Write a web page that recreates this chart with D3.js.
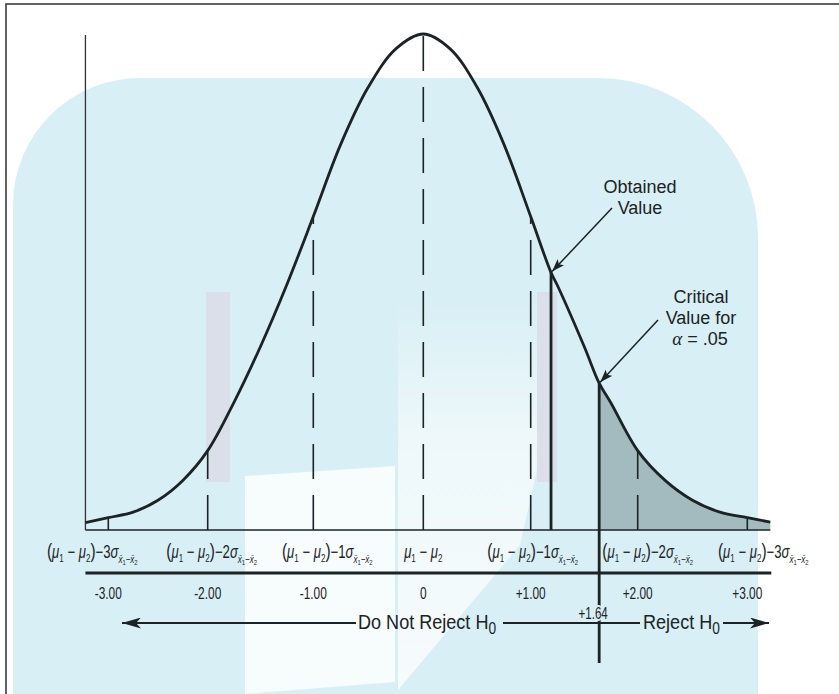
<!DOCTYPE html>
<html><head><meta charset="utf-8">
<script src="https://cdn.jsdelivr.net/npm/d3@7"></script>
<style>html,body{margin:0;padding:0;background:#fff;} svg{display:block;}</style>
</head><body>
<svg id="chart" width="839" height="694"></svg>
<script>
// ---------------- data ----------------
// curve: position in standard-error units and relative height (peak = 1)
const curveZ = [-3.23, -3.0, -2.75, -2.5, -2.25, -2.0, -1.75, -1.5, -1.25, -1.0, -0.75, -0.5, -0.25, 0,
                0.25, 0.5, 0.75, 1.0, 1.19, 1.25, 1.5, 1.64, 1.75, 2.0, 2.25, 2.5, 2.75, 3.0, 3.21];
const curveH = [0.015, 0.025, 0.036, 0.060, 0.100, 0.160, 0.258, 0.370, 0.495, 0.632, 0.778, 0.893, 0.970, 1.0,
                0.970, 0.893, 0.778, 0.632, 0.519, 0.493, 0.370, 0.296, 0.256, 0.160, 0.100, 0.060, 0.036, 0.025, 0.016];
const tickValues = [-3, -2, -1, 0, 1, 2, 3];
const tickLabels = ["-3.00", "-2.00", "-1.00", "0", "+1.00", "+2.00", "+3.00"];
const sigmaLabels = ["\u22123", "\u22122", "\u22121", null, "\u22121", "\u22122", "\u22123"];
const dashedAt = [-2, -1, 0, 1, 2];
const solidAt = [-3, 3];
const obtainedZ = 1.19;
const criticalZ = 1.64;
const criticalLabel = "+1.64";
const regionLeft = "Do Not Reject H";
const regionRight = "Reject H";
const obtainedText = ["Obtained", "Value"];
const criticalText = ["Critical", "Value for"];

// ---------------- layout ----------------
const W = 839, H = 694;
const FONT = "'Liberation Sans', Arial, Helvetica, sans-serif";
const INK = "#1b2325";
const PANEL = "#d8eff5";
const svg = d3.select("#chart");
const defs = svg.append("defs");

const x = d3.scaleLinear().domain(tickValues).range([108.3, 207.7, 313.3, 423.3, 530.7, 637.7, 747.3]);
const y = d3.scaleLinear().domain([0, 1]).range([530, 34]);
const pts = curveZ.map((z, i) => [z, curveH[i]]);
const hAt = z => curveH[curveZ.indexOf(z)];
const zMin = curveZ[0], zMax = curveZ[curveZ.length - 1];

// ---------------- background (watermark panel) ----------------
svg.append("rect").attr("width", W).attr("height", H).attr("fill", "#fff");
svg.append("path")
  .attr("d", "M13,700 L13,205 A127,127 0 0 1 140,78 L598,78 A160,160 0 0 1 758,238 L758,700 Z")
  .attr("fill", PANEL);
const pageGrad = defs.append("linearGradient").attr("id", "pageGrad").attr("x1", 0).attr("y1", 0).attr("x2", 0).attr("y2", 1);
pageGrad.append("stop").attr("offset", "0%").attr("stop-color", PANEL);
pageGrad.append("stop").attr("offset", "35%").attr("stop-color", "#eef8fa");
pageGrad.append("stop").attr("offset", "100%").attr("stop-color", "#f6fbfc");
svg.append("rect").attr("x", 206).attr("y", 292).attr("width", 24).attr("height", 190).attr("fill", "#dcd4e2").attr("opacity", 0.6);
svg.append("rect").attr("x", 537).attr("y", 292).attr("width", 20).attr("height", 190).attr("fill", "#dcd4e2").attr("opacity", 0.6);
svg.append("path").attr("d", "M245,476 L395,466 L395,682 L245,694 Z").attr("fill", "#f7fcfd");
svg.append("path").attr("d", "M398,300 L537,300 L537,470 L520,545 L398,690 Z").attr("fill", "url(#pageGrad)");

// ---------------- frame ----------------
svg.append("rect").attr("x", 6).attr("y", 4).attr("width", 900).attr("height", 800)
  .attr("fill", "none").attr("stroke", "#3c3c3c").attr("stroke-width", 1.6);

// ---------------- markers ----------------
function marker(id, len, half, notch) {
  defs.append("marker").attr("id", id)
    .attr("viewBox", `${-len} ${-half} ${len} ${2 * half}`)
    .attr("markerUnits", "userSpaceOnUse")
    .attr("markerWidth", len).attr("markerHeight", 2 * half)
    .attr("refX", 0).attr("refY", 0).attr("orient", "auto")
    .append("path")
    .attr("d", `M0,0 L${-len},${-half} L${-len + notch},0 L${-len},${half} Z`)
    .attr("fill", INK);
}
marker("bigArrow", 19, 5.5, 5);
marker("smallArrow", 13, 4.5, 3);

// ---------------- shaded rejection region ----------------
defs.append("clipPath").attr("id", "tailClip")
  .append("rect").attr("x", x(criticalZ)).attr("y", 0).attr("width", W).attr("height", y(0));
const curveGen = d3.curveCatmullRom.alpha(0.5);
svg.append("path").datum(pts)
  .attr("clip-path", "url(#tailClip)")
  .attr("fill", "#a3bbbe")
  .attr("d", d3.area().x(d => x(d[0])).y0(y(0)).y1(d => y(d[1])).curve(curveGen));

// ---------------- axes ----------------
svg.append("line").attr("x1", x(zMin)).attr("x2", x(zMin)).attr("y1", y(1) + 1).attr("y2", y(0))
  .attr("stroke", "#333").attr("stroke-width", 1.3);
svg.append("line").attr("x1", x(zMin)).attr("x2", x(zMax)).attr("y1", y(0)).attr("y2", y(0))
  .attr("stroke", INK).attr("stroke-width", 1.7);
svg.append("line").attr("x1", x(zMin)).attr("x2", x(zMax) + 1).attr("y1", 573).attr("y2", 573)
  .attr("stroke", INK).attr("stroke-width", 3);

// dashed guide lines (pattern starts at the baseline)
svg.selectAll("line.dash").data(dashedAt).join("line").attr("class", "dash")
  .attr("x1", d => x(d)).attr("x2", d => x(d))
  .attr("y1", y(0)).attr("y2", d => y(hAt(d)))
  .attr("stroke", INK).attr("stroke-width", 1.6).attr("stroke-dasharray", "35,16");
svg.selectAll("line.solidtick").data(solidAt).join("line").attr("class", "solidtick")
  .attr("x1", d => x(d)).attr("x2", d => x(d))
  .attr("y1", y(0)).attr("y2", d => y(hAt(d)))
  .attr("stroke", INK).attr("stroke-width", 1.6);

// obtained value line & critical value line
svg.append("line").attr("x1", x(obtainedZ)).attr("x2", x(obtainedZ))
  .attr("y1", y(0)).attr("y2", y(hAt(obtainedZ)))
  .attr("stroke", INK).attr("stroke-width", 2.8);
svg.append("line").attr("x1", x(criticalZ)).attr("x2", x(criticalZ))
  .attr("y1", 663).attr("y2", y(hAt(criticalZ)))
  .attr("stroke", INK).attr("stroke-width", 2.8);

// the curve
svg.append("path").datum(pts)
  .attr("fill", "none").attr("stroke", INK).attr("stroke-width", 2.8)
  .attr("d", d3.line().x(d => x(d[0])).y(d => y(d[1])).curve(curveGen));

// ---------------- text helpers ----------------
function condText(x0, y0, sx, anchor, size) {
  return svg.append("g").attr("transform", `translate(${x0},${y0}) scale(${sx},1)`)
    .append("text").attr("text-anchor", anchor).attr("font-family", FONT)
    .attr("font-size", size).attr("fill", INK);
}
function addSpan(t, s, o = {}) {
  const ts = t.append("tspan").text(s);
  Object.entries(o).forEach(([k, v]) => ts.attr(k, v));
  return ts;
}

// formula labels under the baseline
const labelNudge = [-16, 4, 14, 0, 2, 10, 16];
tickValues.forEach((z, i) => {
  const t = condText(x(z) + labelNudge[i], 558, 0.73, "middle", 18);
  const m = sigmaLabels[i];
  if (m === null) {
    addSpan(t, "\u03bc", { "font-style": "italic" });
    addSpan(t, "1", { "font-size": 11, dy: 4 });
    addSpan(t, " \u2212 ", { dy: -4 });
    addSpan(t, "\u03bc", { "font-style": "italic" });
    addSpan(t, "2", { "font-size": 11, dy: 4 });
    return;
  }
  addSpan(t, "(", { "font-size": 21 });
  addSpan(t, "\u03bc", { "font-style": "italic" });
  addSpan(t, "1", { "font-size": 11, dy: 4 });
  addSpan(t, " \u2212 ", { dy: -4 });
  addSpan(t, "\u03bc", { "font-style": "italic" });
  addSpan(t, "2", { "font-size": 11, dy: 4 });
  addSpan(t, ")", { "font-size": 21, dy: -4 });
  addSpan(t, m);
  addSpan(t, "\u03c3", { "font-style": "italic" });
  addSpan(t, "x\u0304", { "font-size": 11, dy: 5, "font-style": "italic" });
  addSpan(t, "1", { "font-size": 8, dy: 2 });
  addSpan(t, "\u2212x\u0304", { "font-size": 11, dy: -2, "font-style": "italic" });
  addSpan(t, "2", { "font-size": 8, dy: 2 });
});

// numeric tick labels
tickValues.forEach((z, i) => {
  condText(x(z), 599, 0.7, "middle", 17).text(tickLabels[i]);
});
// critical value label (drawn over the critical line with a panel-coloured halo)
condText(x(criticalZ) - 6, 619, 0.68, "middle", 17)
  .attr("stroke", PANEL).attr("stroke-width", 4).attr("paint-order", "stroke")
  .text(criticalLabel);

// region labels and arrows
const tl = condText(358, 629, 0.86, "start", 21);
addSpan(tl, regionLeft);
addSpan(tl, "0", { "font-size": 16, dy: 5 });
const tr = condText(643, 629, 0.86, "start", 21);
addSpan(tr, regionRight);
addSpan(tr, "0", { "font-size": 16, dy: 5 });

svg.append("line").attr("x1", 356).attr("x2", 122).attr("y1", 623).attr("y2", 623)
  .attr("stroke", INK).attr("stroke-width", 1.9).attr("marker-end", "url(#bigArrow)");
svg.append("line").attr("x1", 503).attr("x2", 640).attr("y1", 623).attr("y2", 623)
  .attr("stroke", INK).attr("stroke-width", 1.9);
svg.append("line").attr("x1", 723).attr("x2", 769).attr("y1", 623).attr("y2", 623)
  .attr("stroke", INK).attr("stroke-width", 1.9).attr("marker-end", "url(#bigArrow)");

// annotations
obtainedText.forEach((s, i) => condText(640, 193 + i * 21, 1, "middle", 18).text(s));
criticalText.forEach((s, i) => condText(701, 303 + i * 21, 1, "middle", 18).text(s));
const al = condText(700, 345, 1, "middle", 18);
addSpan(al, "\u03b1", { "font-family": "'Liberation Serif', serif", "font-style": "italic", "font-size": 19 });
addSpan(al, " = .05");

svg.append("line").attr("x1", 612).attr("y1", 208).attr("x2", x(obtainedZ) + 1).attr("y2", y(hAt(obtainedZ)) - 1)
  .attr("stroke", INK).attr("stroke-width", 1.5).attr("marker-end", "url(#smallArrow)");
svg.append("line").attr("x1", 658).attr("y1", 320).attr("x2", x(criticalZ) + 1).attr("y2", y(hAt(criticalZ)) - 1)
  .attr("stroke", INK).attr("stroke-width", 1.5).attr("marker-end", "url(#smallArrow)");
</script>
</body></html>
